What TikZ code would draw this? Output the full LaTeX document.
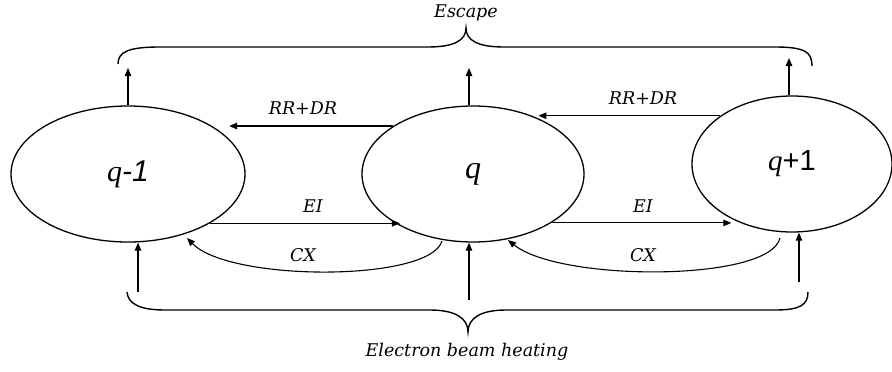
\documentclass[tikz,border=0pt]{standalone}
\usepackage{fontspec}
\setmainfont{DejaVu Serif}
\newfontfamily\qfont{Liberation Serif}
\newfontfamily\nfont{Liberation Sans}
\usetikzlibrary{arrows.meta,shapes.geometric}
\begin{document}
\begin{tikzpicture}[x=1pt,y=-1pt,
  state/.style={draw,ellipse,inner sep=0pt,line width=1.3pt},
  arr/.style={line width=1.1pt,-{Triangle[length=8pt,width=6.5pt]}},
  brace/.style={line width=1.4pt},
  lbl/.style={font=\fontsize{17.5}{19}\selectfont\itshape,inner sep=0pt}]
\useasboundingbox (0,0) rectangle (892,372);
% states
\node[state,minimum width=234pt,minimum height=136pt] (qm) at (128,174)
  {\fontsize{30}{32}\selectfont\qfont\itshape q\nfont-1};
\node[state,minimum width=222pt,minimum height=136pt] (q) at (473,174)
  {\fontsize{32}{34}\selectfont\qfont\itshape q};
\node[state,minimum width=200pt,minimum height=136pt] (qp) at (792,164)
  {\fontsize{29}{31}\selectfont\qfont\itshape q\nfont\upshape+1};
% escape arrows
\coordinate (e1) at (128,68);
\coordinate (e2) at (469,68);
\coordinate (e3) at (789,58);
\draw[arr] (e1 |- qm.north) -- (e1);
\draw[arr] (e2 |- q.north) -- (e2);
\draw[arr] (e3 |- qp.north) -- (e3);
% heating arrows
\coordinate (h1) at (138,292);
\coordinate (h2) at (469,300);
\coordinate (h3) at (799,282);
\draw[arr] (h1) -- (h1 |- qm.south);
\draw[arr] (h2) -- (h2 |- q.south);
\draw[arr] (h3) -- (h3 |- qp.south);
% RR+DR
\draw[arr] (q.149.4) -- ++(-164,0);
\draw[arr] (qp.146.9) -- ++(-182,0);
% EI
\draw[arr] (qm.-31.2) -- ++(190,0);
\draw[arr] (q.-32.5) -- ++(180,0);
% CX
\draw[arr] (442,241) .. controls (430,282) and (230,282) .. (187,238);
\draw[arr] (780,238) .. controls (770,282) and (560,282) .. (508,240);
% labels
\node[lbl] (l1) at (303,108) {RR+DR};
\node[lbl] (l2) at (643,98) {RR+DR};
\node[lbl] (l3) at (313,206) {EI};
\node[lbl] (l4) at (643,206) {EI};
\node[lbl] (l5) at (303,255) {CX};
\node[lbl] (l6) at (643,255) {CX};
\node[lbl] (esc) at (466,13) {Escape};
\node[lbl] (heat) at (467,352) {Electron beam heating};
% braces
\draw[brace] (118,64) .. controls (118,52) and (128,47) .. (160,47) -- (428,47)
  .. controls (455,47) and (466,40) .. (466,28)
  .. controls (466,40) and (477,47) .. (504,47) -- (775,47)
  .. controls (805,47) and (812,52) .. (812,66);
\draw[brace] (127,292) .. controls (128,304) and (140,310) .. (165,310) -- (430,310)
  .. controls (455,310) and (468,318) .. (468,332)
  .. controls (468,318) and (481,310) .. (506,310) -- (775,310)
  .. controls (800,310) and (808,305) .. (808,292);
\end{tikzpicture}
\end{document}
